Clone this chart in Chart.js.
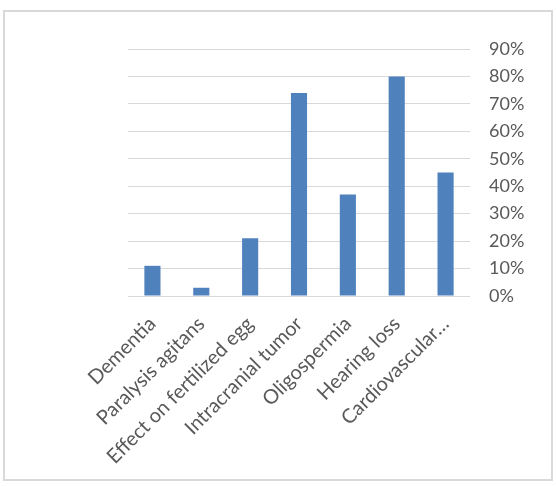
<!DOCTYPE html>
<html>
<head>
<meta charset="utf-8">
<script src="https://cdn.jsdelivr.net/npm/chart.js@4/dist/chart.umd.min.js"></script>
<style>
  html, body { margin: 0; padding: 0; background: #fff; }
  #wrap { position: relative; width: 556px; height: 486px; }
  #frame { position: absolute; left: 3px; top: 10px; width: 550px; height: 471px; box-sizing: border-box; border: 2px solid #d9d9d9; pointer-events: none; }
  canvas { position: absolute; left: 0; top: 0; }
</style>
</head>
<body>
<div id="wrap">
  <canvas id="c" width="556" height="486"></canvas>
  <div id="frame"></div>
</div>
<script>
const categories = ["Dementia", "Paralysis agitans", "Effect on fertilized egg", "Intracranial tumor", "Oligospermia", "Hearing loss", "Cardiovascular\u2026"];
const values = [0.11, 0.03, 0.21, 0.74, 0.37, 0.80, 0.45];
const yMax = 0.9;
const yStep = 0.1;

const yFont = { family: "Lato, 'Open Sans', sans-serif", size: 18 };
const xFont = { family: "Lato, 'Open Sans', sans-serif", size: 20 };

new Chart(document.getElementById('c'), {
  type: 'bar',
  data: {
    labels: categories,
    datasets: [{
      data: values,
      backgroundColor: '#4F81BD',
      borderWidth: 0,
      barPercentage: 0.33,
      categoryPercentage: 1.0
    }]
  },
  options: {
    responsive: false,
    animation: false,
    devicePixelRatio: 1,
    layout: { padding: { left: 128, top: 49, right: 0, bottom: 0 } },
    plugins: { legend: { display: false }, tooltip: { enabled: false } },
    scales: {
      x: {
        grid: { display: false, drawTicks: false },
        border: { display: false },
        ticks: {
          color: '#595959',
          font: xFont,
          minRotation: 45,
          maxRotation: 45,
          autoSkip: false,
          padding: 16
        },
        afterFit: (s) => { s.height = 190; }
      },
      y: {
        position: 'right',
        min: 0,
        max: yMax,
        grid: { color: '#d9d9d9', lineWidth: 1, drawTicks: false },
        border: { display: false },
        ticks: {
          stepSize: yStep,
          color: '#595959',
          font: yFont,
          padding: 19,
          callback: (v) => Math.round(v * 100) + '%'
        },
        afterFit: (s) => { s.width = 86; }
      }
    }
  }
});
</script>
</body>
</html>
